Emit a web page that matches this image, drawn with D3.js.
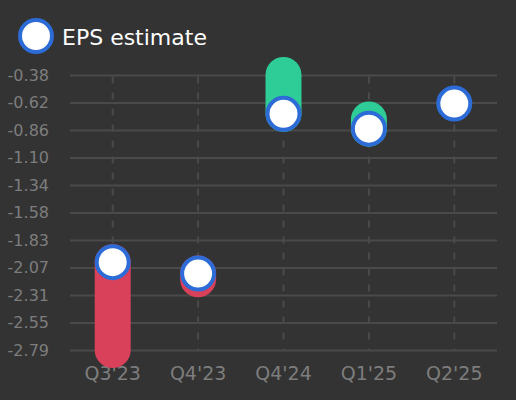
<!DOCTYPE html>
<html>
<head>
<meta charset="utf-8">
<script src="https://cdn.jsdelivr.net/npm/d3@7"></script>
<style>
  html, body { margin: 0; padding: 0; background: #333333; }
  svg { display: block; font-family: "DejaVu Sans", sans-serif; }
</style>
</head>
<body>
<div id="chart"></div>
<script>
// Data
const quarters = ["Q3'23", "Q4'23", "Q4'24", "Q1'25", "Q2'25"];
const epsEstimate = [-2.02, -2.12, -0.72, -0.85, -0.63];
const epsActual = [-2.79, -2.17, -0.38, -0.77, null];
const yTickLabels = ["-0.38", "-0.62", "-0.86", "-1.10", "-1.34", "-1.58",
  "-1.83", "-2.07", "-2.31", "-2.55", "-2.79"];

// Layout
const width = 516;
const height = 400;
const margin = { top: 75, right: 20, bottom: 50, left: 70 };
const BAR_WIDTH = 36;
const DOT_R = 16;
const FONT = "DejaVu Sans, sans-serif";

const BG = "#333333";
const GRID = "#4a4a4a";
const LABEL = "#7d7d7d";
const RED = "#d9405a";
const GREEN = "#2ecc96";
const BLUE = "#2d6bd6";

const svg = d3.select("#chart")
  .append("svg")
  .attr("width", width)
  .attr("height", height);

svg.append("rect")
  .attr("width", width)
  .attr("height", height)
  .attr("fill", BG);

const x = d3.scaleBand()
  .domain(quarters)
  .range([margin.left, width - margin.right + 1])
  .padding(0);

const yMax = -0.38;
const yMin = -2.79;
const y = d3.scaleLinear()
  .domain([yMin, yMax])
  .range([height - margin.bottom, margin.top]);

const tickValues = d3.range(yTickLabels.length)
  .map(i => yMax + i * (yMin - yMax) / (yTickLabels.length - 1));

// Horizontal grid + y labels
const yAxis = d3.axisLeft(y)
  .tickValues(tickValues)
  .tickFormat((d, i) => yTickLabels[i])
  .tickSize(-(width - margin.right + 1 - margin.left))
  .tickPadding(21);

const gy = svg.append("g")
  .attr("transform", "translate(" + margin.left + ",0)")
  .call(yAxis)
  .attr("font-family", FONT)
  .attr("font-size", 16);
gy.select(".domain").remove();
gy.selectAll(".tick line")
  .attr("stroke", GRID)
  .attr("stroke-width", 2);
gy.selectAll(".tick text")
  .attr("fill", LABEL);

// Vertical dashed lines
svg.append("g")
  .selectAll("line")
  .data(quarters)
  .enter()
  .append("line")
  .attr("x1", d => x(d) + x.bandwidth() / 2)
  .attr("x2", d => x(d) + x.bandwidth() / 2)
  .attr("y1", y(yMax) + 1.5)
  .attr("y2", y(yMin))
  .attr("stroke", GRID)
  .attr("stroke-width", 2)
  .attr("stroke-dasharray", "7,9");

// x labels
const xAxis = d3.axisBottom(x).tickSize(0).tickPadding(17);
const gx = svg.append("g")
  .attr("transform", "translate(0," + y(yMin) + ")")
  .call(xAxis)
  .attr("font-family", FONT)
  .attr("font-size", 19);
gx.select(".domain").remove();
gx.selectAll(".tick text")
  .attr("fill", LABEL);

// Bars from estimate to actual
const rows = quarters.map((q, i) => ({
  q: q, est: epsEstimate[i], act: epsActual[i]
}));

svg.append("g")
  .selectAll("line")
  .data(rows.filter(d => d.act !== null))
  .enter()
  .append("line")
  .attr("x1", d => x(d.q) + x.bandwidth() / 2)
  .attr("x2", d => x(d.q) + x.bandwidth() / 2)
  .attr("y1", d => y(d.est))
  .attr("y2", d => y(d.act))
  .attr("stroke", d => (d.act >= d.est ? GREEN : RED))
  .attr("stroke-width", BAR_WIDTH)
  .attr("stroke-linecap", "round");

// Estimate dots
svg.append("g")
  .selectAll("circle")
  .data(rows)
  .enter()
  .append("circle")
  .attr("cx", d => x(d.q) + x.bandwidth() / 2)
  .attr("cy", d => y(d.est))
  .attr("r", DOT_R)
  .attr("fill", "#ffffff")
  .attr("stroke", BLUE)
  .attr("stroke-width", 4);

// Legend
const legend = svg.append("g");
legend.append("circle")
  .attr("cx", 36)
  .attr("cy", 36)
  .attr("r", DOT_R)
  .attr("fill", "#ffffff")
  .attr("stroke", BLUE)
  .attr("stroke-width", 4);
legend.append("text")
  .attr("x", 62)
  .attr("y", 45)
  .attr("fill", "#ffffff")
  .attr("font-family", FONT)
  .attr("font-size", "22px")
  .text("EPS estimate");
</script>
</body>
</html>
